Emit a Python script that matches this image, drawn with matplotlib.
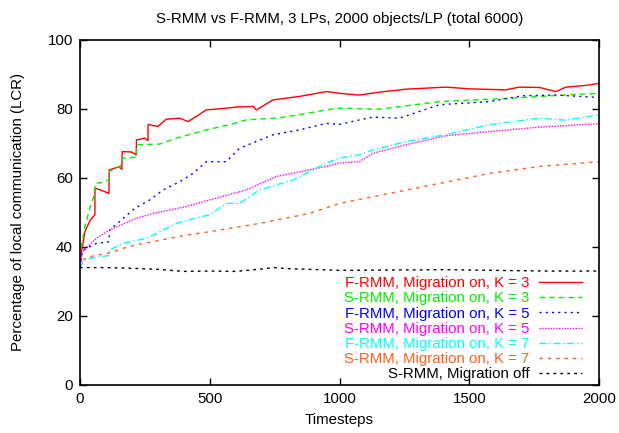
import matplotlib
matplotlib.use("Agg")
import matplotlib.pyplot as plt

plt.rcParams['font.family'] = ['Liberation Sans', 'DejaVu Sans']

# F-RMM, migration on, K = 3
t_f3 = [0, 5, 20, 40, 58, 58, 80, 112, 113, 150, 162, 163, 200, 217, 218, 250, 262, 263, 300, 333,
        385, 417, 487, 564, 600, 667, 680, 744, 846, 949, 1000, 1077, 1150, 1256, 1410, 1500, 1641,
        1692, 1770, 1833, 1872, 1950, 2000]
v_f3 = [34, 38, 44.5, 47.8, 49.3, 57, 56.5, 55.5, 62.3, 63.2, 62.5, 67.6, 67.5, 66.7, 71, 71.5, 70.8,
        75.5, 74.9, 77, 77.3, 76.3, 79.7, 80.2, 80.5, 80.7, 79.7, 82.6, 83.6, 85, 84.5, 84, 84.8,
        85.7, 86.3, 85.8, 85.5, 86.3, 86.2, 85, 86.3, 86.8, 87.4]
# S-RMM, migration on, K = 3
t_s3 = [0, 5, 20, 40, 58, 60, 90, 112, 115, 155, 165, 217, 220, 308, 372, 487, 577, 641, 756, 846,
        949, 1000, 1154, 1385, 1641, 1820, 2000]
v_s3 = [34, 40, 46, 51.7, 55.5, 58.4, 58.7, 59.5, 62, 63.3, 65.7, 66, 69.6, 69.8, 71.5, 73.9, 75.4,
        76.8, 77.3, 78.3, 79.7, 80.2, 79.9, 82.1, 83, 83.8, 84.5]
# F-RMM, migration on, K = 5
t_f5 = [0, 10, 64, 112, 115, 160, 212, 269, 321, 385, 436, 487, 564, 615, 744, 846, 949, 1000, 1077,
        1128, 1231, 1385, 1577, 1705, 1833, 2000]
v_f5 = [34, 39, 41, 41.5, 44.9, 47.8, 51.2, 53.6, 56.5, 58.9, 61.3, 64.7, 64.7, 68.6, 72.5, 73.9,
        75.8, 75.5, 76.8, 77.6, 77.3, 81.2, 82.1, 83.8, 84, 83.3]
# S-RMM, migration on, K = 5
t_s5 = [0, 10, 64, 115, 160, 218, 282, 346, 410, 500, 641, 756, 949, 1000, 1077, 1128, 1256, 1410,
        1577, 1769, 2000]
v_s5 = [34, 38.5, 42.5, 44.9, 46.4, 48.3, 49.7, 50.7, 51.7, 53.6, 56.5, 60.4, 63.3, 64.3, 64.7, 67.1,
        69.6, 72.2, 73.4, 74.7, 75.7]
# F-RMM, migration on, K = 7
t_f7 = [0, 10, 20, 112, 115, 167, 256, 321, 372, 417, 500, 564, 615, 692, 821, 949, 1000, 1077, 1128,
        1256, 1410, 1577, 1769, 1872, 2000]
v_f7 = [34, 35.5, 36.5, 37.5, 39.1, 41, 42.5, 44.9, 46.8, 47.8, 49.3, 52.6, 52.6, 56.5, 59.4, 64.3,
        65.7, 66.7, 68.1, 70.5, 72.5, 75.4, 77.3, 76.7, 78.3]
# S-RMM, migration on, K = 7
t_s7 = [0, 10, 51, 113, 167, 218, 282, 346, 417, 500, 692, 885, 1000, 1192, 1385, 1577, 1769, 2000]
v_s7 = [34, 36.2, 37.4, 38.2, 39.6, 40.6, 41.5, 42.5, 43.5, 44.4, 46.8, 49.7, 52.6, 55.5, 58.4, 61.3,
        63.3, 64.7]
# S-RMM, migration off
t_off = [0, 100, 200, 300, 400, 500, 600, 700, 750, 800, 1000, 1200, 1400, 1600, 1800, 2000]
v_off = [34, 34, 33.8, 33.5, 32.9, 33, 32.9, 33.6, 34, 33.7, 33.2, 33.3, 33.4, 33.2, 33, 33]

labels = ['F-RMM, Migration on, K = 3', 'S-RMM, Migration on, K = 3',
          'F-RMM, Migration on, K = 5', 'S-RMM, Migration on, K = 5',
          'F-RMM, Migration on, K = 7', 'S-RMM, Migration on, K = 7',
          'S-RMM, Migration off']
x_ticks = [0, 500, 1000, 1500, 2000]
y_ticks = [0, 20, 40, 60, 80, 100]

series = [(t_f3, v_f3), (t_s3, v_s3), (t_f5, v_f5), (t_s5, v_s5),
          (t_f7, v_f7), (t_s7, v_s7), (t_off, v_off)]
colors = ['#ff0000', '#00f000', '#0000ff', '#ff00ff', '#00ffff', '#ff6020', '#000000']
styles = ['-', (0, (4, 3)), (0, (1.5, 3)), (0, (1, 1)), (0, (5, 2, 1, 2)), (0, (2.5, 3.5)), (0, (2, 3))]

fig = plt.figure(figsize=(6.19, 4.33), dpi=100)
ax = fig.add_axes([0.129, 0.111, 0.839, 0.797])

for (t, v), c, ls, lab in zip(series, colors, styles, labels):
    ax.plot(t, v, color=c, linestyle=ls, linewidth=1.0, label=lab)

ax.set_xlim(0, 2000)
ax.set_ylim(0, 100)
ax.set_xticks(x_ticks)
ax.set_yticks(y_ticks)
ax.tick_params(direction='in', length=5, width=1, top=True, right=True, labelsize=10.8, pad=5)
for s in ax.spines.values():
    s.set_linewidth(1.2)

ax.set_title('S-RMM vs F-RMM, 3 LPs, 2000 objects/LP (total 6000)', fontsize=10.8, pad=12)
ax.set_xlabel('Timesteps', fontsize=10.8, labelpad=5)
ax.set_ylabel('Percentage of local communication (LCR)', fontsize=10.8, labelpad=16)

leg = ax.legend(loc='lower right', bbox_to_anchor=(0.967, 0.01), frameon=False, markerfirst=False,
                fontsize=10.8, labelcolor='linecolor', handlelength=2.9, handletextpad=0.6,
                labelspacing=0.08, borderpad=0, borderaxespad=0)

fig.savefig('out.png', dpi=100)
